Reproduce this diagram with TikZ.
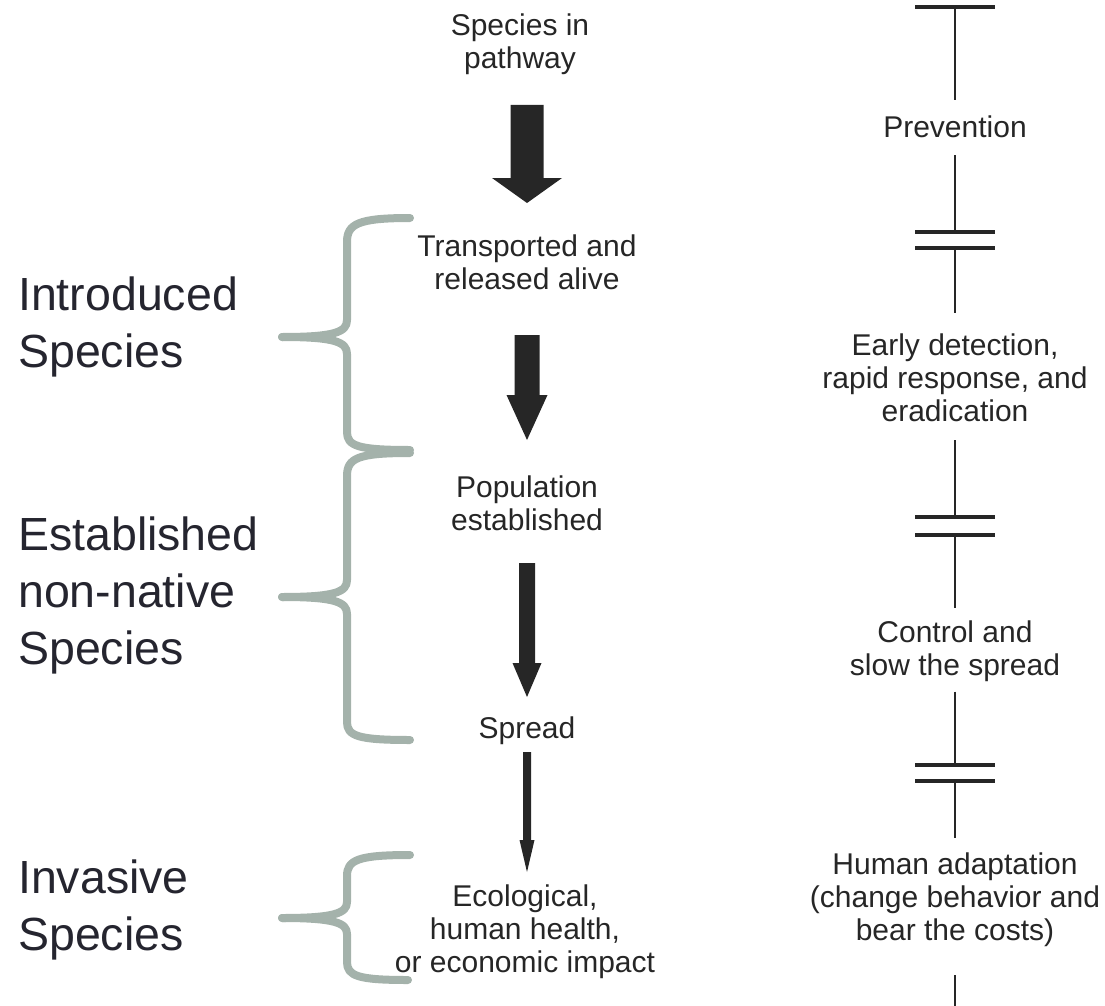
\documentclass[tikz,border=0pt]{standalone}
\usepackage{fontspec}
\setmainfont{Liberation Sans}
\usetikzlibrary{calc}
\definecolor{ink}{HTML}{262626}
\definecolor{labelink}{HTML}{25252F}
\definecolor{bracegray}{HTML}{A4B2AB}

% block arrow: #1 top, #2 tip, #3 shaft half-width, #4 head half-width, #5 head length
\newcommand\blockarrow[5]{%
  \fill[blockfill] ($(#1)+(-#3,0)$) -- ($(#1)+(#3,0)$) -- ($(#2)+(#3,-#5)$)
    -- ($(#2)+(#4,-#5)$) -- (#2) -- ($(#2)+(-#4,-#5)$) -- ($(#2)+(-#3,-#5)$) -- cycle;}
% bar across the right-hand stem
\newcommand\crossbar[1]{\draw[barline] ($(#1)+(-40,0)$) -- ($(#1)+(40,0)$);}

\begin{document}
\begin{tikzpicture}[x=1pt,y=-1pt,
  stage/.style={font=\fontsize{30}{33}\selectfont, text=ink, align=center, inner sep=0pt},
  group/.style={font=\fontsize{46.5}{57}\selectfont, text=labelink, align=left, inner sep=0pt, anchor=west},
  brace/.style={draw=bracegray, line width=8pt, line cap=round, line join=round},
  stem/.style={draw=ink, line width=2.6pt},
  barline/.style={draw=ink, line width=4.2pt},
  blockfill/.style={fill=ink}]
\useasboundingbox (0,0) rectangle (1105,1006);

% ---- stages (left column)
\node[stage] (species) at (520,44) {Species in\\pathway};
\node[stage] (transp)  at (527,262) {Transported and\\released alive};
\node[stage] (popul)   at (527,503) {Population\\established};
\node[stage] (spread)  at (527,731) {Spread};
\node[stage] (impact)  at (525,932) {Ecological,\\human health,\\or economic impact};

% ---- arrows between stages
\coordinate (a1top) at (527,105);  \coordinate (a1tip) at (527,203);
\coordinate (a2top) at (527,335);  \coordinate (a2tip) at (527,440);
\coordinate (a3top) at (527,563);  \coordinate (a3tip) at (527,697);
\coordinate (a4top) at (527,752);  \coordinate (a4tip) at (527,872);
\blockarrow{a1top}{a1tip}{16.5}{35}{25}
\blockarrow{a2top}{a2tip}{12.5}{20.5}{45}
\blockarrow{a3top}{a3tip}{8}{14.5}{34}
\blockarrow{a4top}{a4tip}{4}{7.5}{32}

% ---- group labels and braces
\node[group] (introduced)  at (18,327) {Introduced\\Species};
\node[group] (established) at (18,595) {Established\\non-native\\Species};
\node[group] (invasive)    at (18,910) {Invasive\\Species};

\draw[brace] (410,218) .. controls (358,218) and (347,224) .. (347,242) -- (347,320)
  .. controls (347,332) and (335,337) .. (282,337);
\draw[brace] (282,337) .. controls (335,337) and (347,342) .. (347,354) -- (347,432)
  .. controls (347,446) and (358,450) .. (410,450);

\draw[brace] (410,453) .. controls (358,453) and (347,458) .. (347,476) -- (347,580)
  .. controls (347,592) and (335,597) .. (282,597);
\draw[brace] (282,597) .. controls (335,597) and (347,602) .. (347,614) -- (347,722)
  .. controls (347,736) and (358,740) .. (410,740);

\draw[brace] (410,855) .. controls (358,855) and (347,860) .. (347,876) -- (347,902)
  .. controls (347,913) and (335,918) .. (282,918);
\draw[brace] (282,918) .. controls (335,918) and (347,923) .. (347,934) -- (347,962)
  .. controls (347,976) and (358,980) .. (408,980);

% ---- management actions (right column)
\node[stage] (prevent) at (955,127) {Prevention};
\node[stage] (early)   at (955,378) {Early detection,\\rapid response, and\\eradication};
\node[stage] (control) at (955,651) {Control and\\slow the spread};
\node[stage] (adapt)   at (955,900) {Human adaptation\\(change behavior and\\bear the costs)};

\coordinate (top) at (955,7);
\coordinate (b1a) at (955,232); \coordinate (b1b) at (955,248);
\coordinate (b2a) at (955,517); \coordinate (b2b) at (955,535);
\coordinate (b3a) at (955,765); \coordinate (b3b) at (955,781);
\coordinate (bottom) at (955,1010);

\crossbar{top}
\crossbar{b1a} \crossbar{b1b}
\crossbar{b2a} \crossbar{b2b}
\crossbar{b3a} \crossbar{b3b}

\draw[stem, shorten >=16pt] (top) -- (prevent.north);
\draw[stem, shorten <=17pt] (prevent.south) -- (b1a);
\draw[stem, shorten >=21pt] (b1b) -- (early.north);
\draw[stem, shorten <=18pt] (early.south) -- (b2a);
\draw[stem, shorten >=12pt] (b2b) -- (control.north);
\draw[stem, shorten <=10pt] (control.south) -- (b3a);
\draw[stem, shorten >=15pt] (b3b) -- (adapt.north);
\draw[stem, shorten <=28pt] (adapt.south) -- (bottom);
\end{tikzpicture}
\end{document}
